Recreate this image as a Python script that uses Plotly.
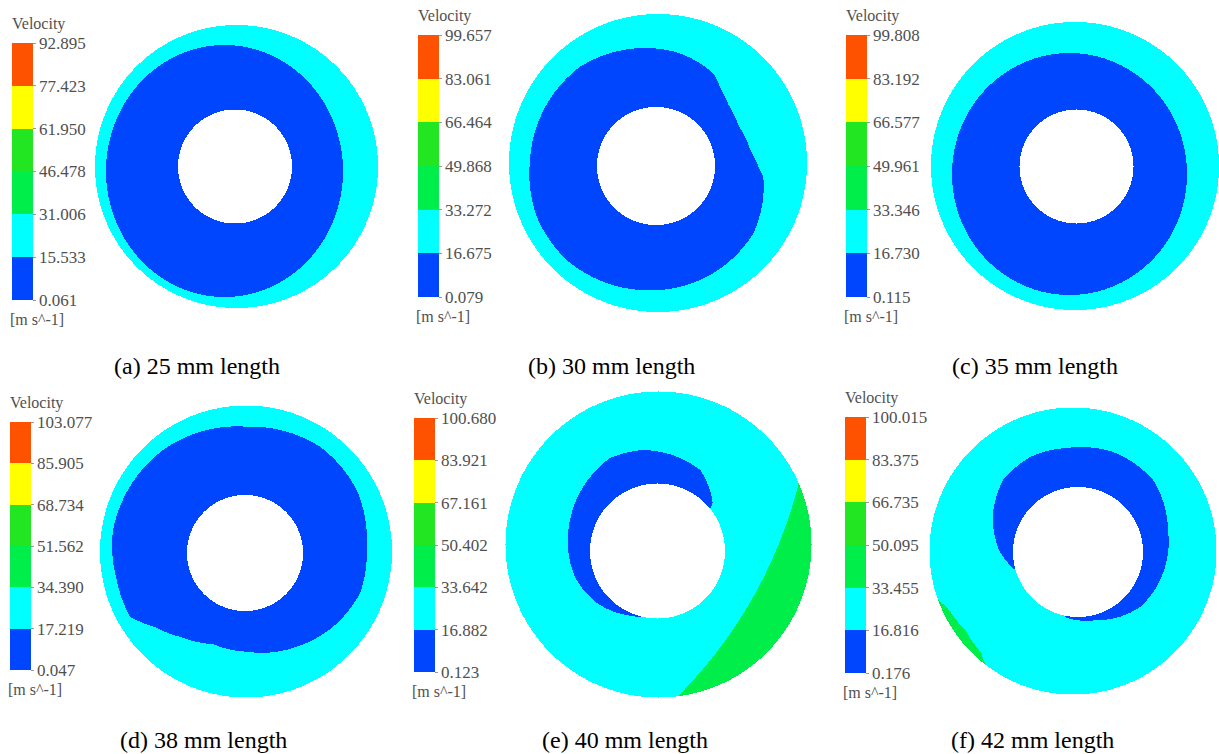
import numpy as np
import plotly.graph_objects as go

W, H = 1219, 754
FONT = "Liberation Serif, Times New Roman, serif"

# ---------------- data ----------------
band_colors = ["#0046ff", "#00ffff", "#00ee4a", "#22e622", "#ffff00", "#ff5200"]

captions = ["(a) 25 mm length", "(b) 30 mm length", "(c) 35 mm length",
            "(d) 38 mm length", "(e) 40 mm length", "(f) 42 mm length"]

ticks_a = ["0.061", "15.533", "31.006", "46.478", "61.950", "77.423", "92.895"]
ticks_b = ["0.079", "16.675", "33.272", "49.868", "66.464", "83.061", "99.657"]
ticks_c = ["0.115", "16.730", "33.346", "49.961", "66.577", "83.192", "99.808"]
ticks_d = ["0.047", "17.219", "34.390", "51.562", "68.734", "85.905", "103.077"]
ticks_e = ["0.123", "16.882", "33.642", "50.402", "67.161", "83.921", "100.680"]
ticks_f = ["0.176", "16.816", "33.455", "50.095", "66.735", "83.375", "100.015"]
panel_ticks = [ticks_a, ticks_b, ticks_c, ticks_d, ticks_e, ticks_f]

# domain geometry (pixels of the page): outer wall and inner hole
outer_cx = [236.5, 658.0, 1075.0, 246.0, 658.5, 1073.0]
outer_cy = [166.5, 163.0, 166.0, 551.5, 544.5, 551.0]
outer_r = [141.5, 149.0, 144.0, 146.0, 153.0, 143.5]
hole_cx = [235.0, 656.0, 1076.5, 245.0, 657.5, 1078.0]
hole_cy = [166.5, 166.0, 166.5, 553.0, 551.0, 552.0]
hole_r = [57.0, 59.0, 57.0, 58.0, 67.5, 65.0]

# low-velocity (blue) zones
blue_a_ellipse = [224.5, 171.0, 118.5, 126.0]
blue_c_ellipse = [1069.5, 174.0, 117.5, 121.0]
blue_b_ang = [105.7, 127.4, 177.3, 203.0, 226.5, 262.6, 294.6, 325.3, 354.3, 0.0, 10.0,
              25.8, 40.0, 50.0, 58.3, 78.0]
blue_b_rad = [120.5, 125.0, 126.1, 129.6, 129.7, 125.0, 121.8, 118.3, 107.8, 102.1, 95.5,
              91.9, 94.8, 100.8, 109.0, 115.2]
blue_d_ang = [89.2, 128.5, 170.1, 191.9, 209.0, 219.4, 232.2, 250.6, 271.0, 298.9, 320.0,
              340.8, 3.0, 29.4, 54.8]
blue_d_rad = [126.3, 131.7, 134.0, 131.1, 131.5, 116.5, 106.0, 96.5, 98.7, 107.0, 114.8,
              121.8, 121.9, 128.2, 130.1]
blue_e_ang = [38.0, 41.0, 62.0, 81.0, 98.0, 117.0, 139.0, 160.5, 177.4, 197.5, 220.7, 244.5, 263.5]
blue_e_rad = [66.0, 73.0, 91.5, 97.0, 102.0, 104.4, 98.2, 92.8, 89.6, 86.5, 79.8, 70.9, 66.0]
blue_f_ang = [255.0, 260.5, 285.6, 318.4, 346.1, 13.7, 43.8, 70.7, 96.0, 116.8, 136.0, 155.4, 180.0, 197.6]
blue_f_rad = [64.0, 66.9, 70.6, 82.9, 87.6, 92.6, 104.0, 106.0, 104.6, 106.4, 104.0, 93.5, 78.0, 64.0]

# higher-velocity (green) zones near the wall
green_e_circle = [349.0, 369.0, 464.0]          # green lies outside this circle
green_f_ang = [0.0, 180.0, 198.0, 204.0, 216.0, 228.0, 234.0, 300.0]
green_f_rin = [160.0, 160.0, 146.0, 138.0, 133.5, 137.0, 146.0, 160.0]

# legend placement (pixels)
cbar_left = [12, 418, 846, 10, 414, 845]
cbar_top = [43, 35, 35, 422, 418, 417]
cbar_bottom = [300, 297, 297, 670, 672, 673]
caption_x = [197, 611, 1035, 203, 625, 1032]
caption_y = [366, 366, 366, 740, 740, 740]


# ---------------- helpers ----------------
def polar_inside(X, Y, cx, cy, angs, rads):
    r = np.hypot(X - cx, Y - cy)
    th = np.degrees(np.arctan2(-(Y - cy), X - cx)) % 360.0
    rb = np.interp(th, angs, rads, period=360.0)
    return r < rb


def ellipse_inside(X, Y, e):
    cx, cy, ax, ay = e
    return ((X - cx) / ax) ** 2 + ((Y - cy) / ay) ** 2 < 1.0


def band_value(ticks, k):
    t = [float(v) for v in ticks]
    return 0.5 * (t[k] + t[k + 1])


def colorscale():
    cs = []
    n = len(band_colors)
    for k, c in enumerate(band_colors):
        cs.append([k / n, c])
        cs.append([(k + 1) / n, c])
    return cs


fig = go.Figure()

for i in range(6):
    cx, cy, R = outer_cx[i], outer_cy[i], outer_r[i]
    hx, hy, hr = hole_cx[i], hole_cy[i], hole_r[i]
    x0, x1 = int(np.floor(cx - R)) - 1, int(np.ceil(cx + R)) + 2
    y0, y1 = int(np.floor(cy - R)) - 1, int(np.ceil(cy + R)) + 2
    xs = np.arange(x0, x1) + 0.5
    ys = np.arange(y0, y1) + 0.5
    X, Y = np.meshgrid(xs, ys)

    domain = (np.hypot(X - cx, Y - cy) <= R) & (np.hypot(X - hx, Y - hy) > hr)
    ticks = panel_ticks[i]
    z = np.full(X.shape, np.nan)
    z[domain] = band_value(ticks, 1)

    if i == 0:
        blue = ellipse_inside(X, Y, blue_a_ellipse)
    elif i == 1:
        blue = polar_inside(X, Y, hx, hy, blue_b_ang, blue_b_rad)
    elif i == 2:
        blue = ellipse_inside(X, Y, blue_c_ellipse)
    elif i == 3:
        blue = polar_inside(X, Y, hx, hy, blue_d_ang, blue_d_rad)
    elif i == 4:
        blue = polar_inside(X, Y, hx, hy, blue_e_ang, blue_e_rad)
    else:
        blue = polar_inside(X, Y, hx, hy, blue_f_ang, blue_f_rad)
    z[domain & blue] = band_value(ticks, 0)

    if i == 4:
        gx, gy, gr = green_e_circle
        green = np.hypot(X - gx, Y - gy) > gr
        z[domain & green] = band_value(ticks, 2)
    if i == 5:
        green = ~polar_inside(X, Y, cx, cy, green_f_ang, green_f_rin)
        z[domain & green] = band_value(ticks, 2)

    tv = [float(v) for v in ticks]
    top, bot, left = cbar_top[i], cbar_bottom[i], cbar_left[i]
    fig.add_trace(go.Heatmap(
        x=xs, y=ys, z=z, zmin=tv[0], zmax=tv[-1],
        colorscale=colorscale(), hoverinfo="skip", zsmooth=False,
        colorbar=dict(
            x=left / W, xanchor="left", xref="paper",
            y=1 - top / H, yanchor="top", yref="paper",
            len=bot - top, lenmode="pixels",
            thickness=21, thicknessmode="pixels",
            xpad=0, ypad=0, outlinewidth=0,
            tickmode="array", tickvals=tv, ticktext=ticks,
            ticks="outside", ticklen=3, tickcolor="#999999",
            tickfont=dict(family=FONT, size=17, color="#505050"),
        ),
    ))

    fig.add_annotation(x=left - 2, y=top - 8, xref="x", yref="y", text="Velocity",
                       showarrow=False, xanchor="left", yanchor="bottom",
                       font=dict(family=FONT, size=16, color="#505050"))
    fig.add_annotation(x=left - 4, y=bot + 9, xref="x", yref="y", text="[m s^-1]",
                       showarrow=False, xanchor="left", yanchor="top",
                       font=dict(family=FONT, size=16, color="#505050"))
    fig.add_annotation(x=caption_x[i], y=caption_y[i], xref="x", yref="y",
                       text=captions[i], showarrow=False,
                       xanchor="center", yanchor="middle",
                       font=dict(family=FONT, size=24, color="#000000"))

fig.update_xaxes(range=[0, W], visible=False, fixedrange=True)
fig.update_yaxes(range=[H, 0], visible=False, fixedrange=True)
fig.update_layout(
    width=W, height=H, margin=dict(l=0, r=0, t=0, b=0),
    paper_bgcolor="white", plot_bgcolor="white", showlegend=False,
)
fig.write_html("out.html")
